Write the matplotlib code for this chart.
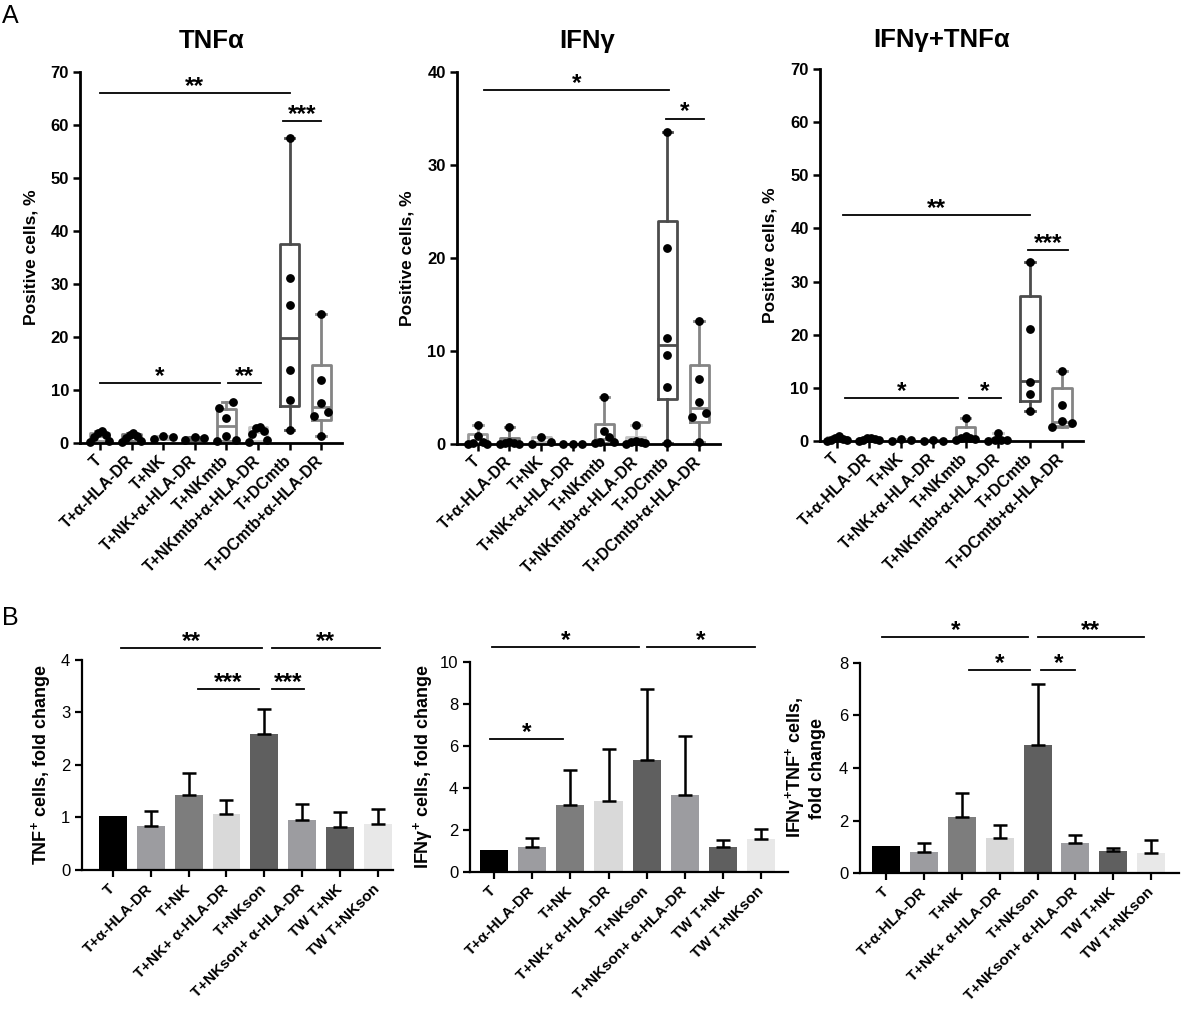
import numpy as np
import matplotlib
matplotlib.use("Agg")
import matplotlib.pyplot as plt

plt.rcParams['font.family'] = ['Liberation Sans', 'DejaVu Sans']
plt.rcParams['mathtext.fontset'] = 'custom'
plt.rcParams['mathtext.rm'] = 'Liberation Sans'
plt.rcParams['mathtext.bf'] = 'Liberation Sans:bold'
plt.rcParams['mathtext.it'] = 'Liberation Sans:italic'

# ---------------- data: panel A (box plots) ----------------
box_groups = ['T', 'T+α-HLA-DR', 'T+NK', 'T+NK+α-HLA-DR', 'T+NKmtb',
              'T+NKmtb+α-HLA-DR', 'T+DCmtb', 'T+DCmtb+α-HLA-DR']

tnf_points = [[0.1, 0.3, 1.2, 1.5, 1.9, 2.3], [0.2, 0.4, 1.0, 1.3, 1.6, 1.8],
              [0.7, 1.2, 1.3], [0.6, 1.0, 1.2],
              [0.3, 0.5, 1.4, 4.8, 6.6, 7.7], [0.2, 0.5, 1.7, 2.3, 2.9, 3.1],
              [2.4, 8.2, 13.7, 26.1, 31.1, 57.6], [1.4, 5.0, 5.8, 7.5, 11.9, 24.4]]
tnf_q1 = [0.3, 0.4, 0.7, 0.6, 0.4, 0.4, 6.9, 4.3]
tnf_med = [1.35, 1.15, 1.2, 1.0, 3.2, 2.0, 19.9, 6.7]
tnf_q3 = [1.95, 1.65, 1.3, 1.2, 6.4, 2.95, 37.5, 14.8]
tnf_lo = [0.1, 0.2, 0.7, 0.6, 0.3, 0.2, 2.4, 1.4]
tnf_hi = [2.3, 1.8, 1.3, 1.2, 7.7, 3.1, 57.6, 24.4]

ifn_points = [[0.0, 0.0, 0.1, 0.2, 0.9, 2.0], [0.0, 0.0, 0.1, 0.1, 0.2, 1.8],
              [0.0, 0.2, 0.7], [0.0, 0.05, 0.05],
              [0.1, 0.2, 0.2, 0.8, 1.4, 5.1], [0.0, 0.1, 0.2, 0.2, 0.3, 2.0],
              [0.1, 6.1, 9.6, 11.4, 21.1, 33.6], [0.2, 2.9, 3.3, 4.5, 7.0, 13.2]]
ifn_q1 = [0.0, 0.0, 0.0, 0.0, 0.15, 0.05, 4.8, 2.4]
ifn_med = [0.15, 0.1, 0.2, 0.05, 0.5, 0.2, 10.6, 3.9]
ifn_q3 = [1.1, 0.6, 0.7, 0.05, 2.2, 0.7, 24.0, 8.5]
ifn_lo = [0.0, 0.0, 0.0, 0.0, 0.1, 0.0, 0.1, 0.2]
ifn_hi = [2.0, 1.8, 0.7, 0.05, 5.1, 2.0, 33.6, 13.2]

dbl_points = [[0.0, 0.1, 0.2, 0.3, 0.6, 1.0], [0.0, 0.1, 0.2, 0.3, 0.5, 0.6],
              [0.0, 0.1, 0.3], [0.0, 0.0, 0.1],
              [0.1, 0.3, 0.5, 0.6, 1.0, 4.4], [0.0, 0.1, 0.1, 0.2, 1.5],
              [5.6, 8.9, 11.1, 21.0, 33.6], [2.6, 3.3, 3.8, 6.8, 13.1]]
dbl_q1 = [0.05, 0.05, 0.0, 0.0, 0.2, 0.05, 7.5, 2.9]
dbl_med = [0.25, 0.25, 0.1, 0.0, 0.6, 0.1, 11.3, 3.6]
dbl_q3 = [0.8, 0.55, 0.3, 0.1, 2.6, 0.6, 27.2, 9.9]
dbl_lo = [0.0, 0.0, 0.0, 0.0, 0.1, 0.0, 5.6, 2.6]
dbl_hi = [1.0, 0.6, 0.3, 0.1, 4.4, 1.5, 33.6, 13.1]

# ---------------- data: panel B (bar charts) ----------------
bar_groups = ['T', 'T+α-HLA-DR', 'T+NK', 'T+NK+ α-HLA-DR', 'T+NKson',
              'T+NKson+ α-HLA-DR', 'TW T+NK', 'TW T+NKson']
tnf_fold = [1.02, 0.84, 1.42, 1.07, 2.59, 0.95, 0.82, 0.88]
tnf_fold_sd = [0, 0.28, 0.43, 0.26, 0.48, 0.30, 0.28, 0.28]
ifn_fold = [1.04, 1.18, 3.18, 3.38, 5.32, 3.69, 1.21, 1.56]
ifn_fold_sd = [0, 0.46, 1.66, 2.48, 3.41, 2.79, 0.30, 0.49]
dbl_fold = [1.03, 0.81, 2.15, 1.32, 4.87, 1.14, 0.85, 0.77]
dbl_fold_sd = [0, 0.32, 0.91, 0.52, 2.33, 0.30, 0.12, 0.47]

# significance brackets: (x start, x end, y, stars)
tnf_sig = [(0, 6, 66.0, '**'), (5.8, 7.0, 60.8, '***'),
           (0, 3.8, 11.4, '*'), (4.05, 5.1, 11.4, '**')]
ifn_sig = [(0.2, 6.05, 38.1, '*'), (5.95, 7.15, 35.0, '*')]
dbl_sig = [(0.2, 6.0, 42.5, '**'), (5.95, 7.2, 36.0, '***'),
           (0.25, 3.75, 8.0, '*'), (4.1, 5.1, 8.0, '*')]
tnf_fold_sig = [(0.2, 3.95, 4.23, '**'), (4.2, 7.05, 4.23, '**'),
                (2.25, 3.85, 3.44, '***'), (4.2, 5.05, 3.44, '***')]
ifn_fold_sig = [(-0.05, 3.8, 10.7, '*'), (4.0, 6.85, 10.7, '*'),
                (-0.1, 1.8, 6.34, '*')]
dbl_fold_sig = [(-0.1, 3.75, 9.0, '*'), (4.0, 6.8, 9.0, '**'),
                (2.2, 3.8, 7.72, '*'), (4.1, 5.0, 7.72, '*')]

box_colors = ['#9a9a9a', '#7a7a7a', '#b5b5b5', '#6a6a6a',
              '#858585', '#c4c4c4', '#4c4c4c', '#848484']
bar_colors = ['#000000', '#9c9ca0', '#7d7d7d', '#d9d9d9',
              '#5f5f5f', '#9c9ca0', '#5f5f5f', '#e8e8e8']


def spread(vals, ymax):
    # horizontal offsets so that dots with close values sit side by side
    vals = np.sort(np.asarray(vals, dtype=float))
    offs = np.zeros(len(vals))
    start = 0
    for k in range(1, len(vals) + 1):
        if k == len(vals) or vals[k] - vals[k - 1] > 0.018 * ymax:
            n = k - start
            if n > 1:
                half = min(0.3, 0.22 * (n - 1))
                slots = np.linspace(-half, half, n)
                order = []
                lo_i, hi_i = 0, n - 1
                while lo_i <= hi_i:
                    order.append(lo_i)
                    if hi_i != lo_i:
                        order.append(hi_i)
                    lo_i += 1
                    hi_i -= 1
                offs[start:k] = slots[order]
            start = k
    return vals, offs


def draw_sig(ax, sigs, size):
    for x1, x2, y, txt in sigs:
        ax.plot([x1, x2], [y, y], color='black', lw=1.3, clip_on=False)
        ax.text((x1 + x2) / 2, y, txt, ha='center', va='baseline',
                fontsize=size, fontweight='bold', clip_on=False)


def box_panel(rect, xlim, pts, q1, med, q3, lo, hi, ymax, ystep, sigs):
    ax = fig.add_axes(rect)
    for i in range(len(box_groups)):
        st = [dict(med=med[i], q1=q1[i], q3=q3[i], whislo=lo[i],
                   whishi=hi[i], fliers=[])]
        c = box_colors[i]
        ax.bxp(st, positions=[i], widths=0.6, showfliers=False, capwidths=0.3,
               boxprops=dict(color=c, lw=2), whiskerprops=dict(color=c, lw=2),
               capprops=dict(color=c, lw=2), medianprops=dict(color=c, lw=2))
        ys, offs = spread(pts[i], ymax)
        ax.scatter(i + offs, ys, s=28, color='black', zorder=5, clip_on=False)
    ax.set_xlim(*xlim)
    ax.set_ylim(0, ymax)
    ax.set_yticks(np.arange(0, ymax + 0.1, ystep))
    ax.set_xticks(range(len(box_groups)))
    ax.set_xticklabels(box_groups, rotation=45, ha='right', va='center',
                       rotation_mode='anchor', fontweight='bold', fontsize=11.5)
    for lab in ax.get_yticklabels():
        lab.set_fontweight('bold')
        lab.set_fontsize(12)
    ax.set_ylabel('Positive cells, %', fontsize=12.5, fontweight='bold',
                  labelpad=9)
    for s in ['top', 'right']:
        ax.spines[s].set_visible(False)
    for s in ['left', 'bottom']:
        ax.spines[s].set_linewidth(2)
    ax.tick_params(direction='out', length=5, width=1.8, pad=3)
    ax.tick_params(axis='x', pad=6)
    draw_sig(ax, sigs, 17.5)
    return ax


def bar_panel(rect, xlim, means, sds, ymax, ystep, ylabel, pad, sigs):
    ax = fig.add_axes(rect)
    x = np.arange(len(bar_groups))
    ax.bar(x, means, width=0.74, color=bar_colors, zorder=2)
    m = np.array(sds) > 0
    ax.errorbar(x[m], np.array(means)[m],
                yerr=[np.zeros(m.sum()), np.array(sds)[m]], fmt='none',
                ecolor='black', elinewidth=1.8, capsize=5, capthick=1.8,
                zorder=3)
    ax.set_xlim(*xlim)
    ax.set_ylim(0, ymax)
    ax.set_yticks(np.arange(0, ymax + 0.1, ystep))
    ax.set_xticks(x)
    ax.set_xticklabels(bar_groups, rotation=45, ha='right', va='center',
                       rotation_mode='anchor', fontweight='bold', fontsize=11)
    for lab in ax.get_yticklabels():
        lab.set_fontsize(12)
    ax.set_ylabel(ylabel, fontsize=13, fontweight='bold', labelpad=pad,
                  multialignment='center')
    for s in ['top', 'right']:
        ax.spines[s].set_visible(False)
    for s in ['left', 'bottom']:
        ax.spines[s].set_linewidth(1.6)
    ax.tick_params(direction='out', length=5, width=1.6)
    ax.tick_params(axis='x', pad=7)
    draw_sig(ax, sigs, 17.5)
    return ax


fig = plt.figure(figsize=(11.82, 10.10), dpi=100)

box_panel([0.0677, 0.5614, 0.2217, 0.3673], (-0.63, 7.66), tnf_points,
          tnf_q1, tnf_med, tnf_q3, tnf_lo, tnf_hi, 70, 10, tnf_sig)
box_panel([0.3866, 0.5604, 0.2225, 0.3683], (-0.66, 7.66), ifn_points,
          ifn_q1, ifn_med, ifn_q3, ifn_lo, ifn_hi, 40, 10, ifn_sig)
box_panel([0.6937, 0.5634, 0.2225, 0.3683], (-0.53, 7.65), dbl_points,
          dbl_q1, dbl_med, dbl_q3, dbl_lo, dbl_hi, 70, 10, dbl_sig)

bar_panel([0.0694, 0.1386, 0.263, 0.208], (-0.82, 7.4), tnf_fold, tnf_fold_sd,
          4, 1, 'TNF$^{\\mathbf{+}}$ cells, fold change', 6, tnf_fold_sig)
bar_panel([0.3976, 0.1366, 0.269, 0.208], (-0.63, 7.7), ifn_fold, ifn_fold_sd,
          10, 2, 'IFNγ$^{\\mathbf{+}}$ cells, fold change', 3, ifn_fold_sig)
bar_panel([0.7276, 0.1356, 0.27, 0.208], (-0.69, 7.74), dbl_fold, dbl_fold_sd,
          8, 2, 'IFNγ$^{\\mathbf{+}}$TNF$^{\\mathbf{+}}$ cells,\nfold change',
          9, dbl_fold_sig)

# titles and panel letters
fig.text(212 / 1182, 0.9525, 'TNFα', ha='center', va='baseline',
         fontsize=18.5, fontweight='bold')
fig.text(587 / 1182, 0.9525, 'IFNγ', ha='center', va='baseline',
         fontsize=18.5, fontweight='bold')
fig.text(942 / 1182, 0.9535, 'IFNγ+TNFα', ha='center', va='baseline',
         fontsize=18.5, fontweight='bold')
fig.text(0.002, 0.977, 'A', ha='left', va='baseline', fontsize=18)
fig.text(0.002, 0.381, 'B', ha='left', va='baseline', fontsize=18)

fig.savefig('out.png', dpi=100)
